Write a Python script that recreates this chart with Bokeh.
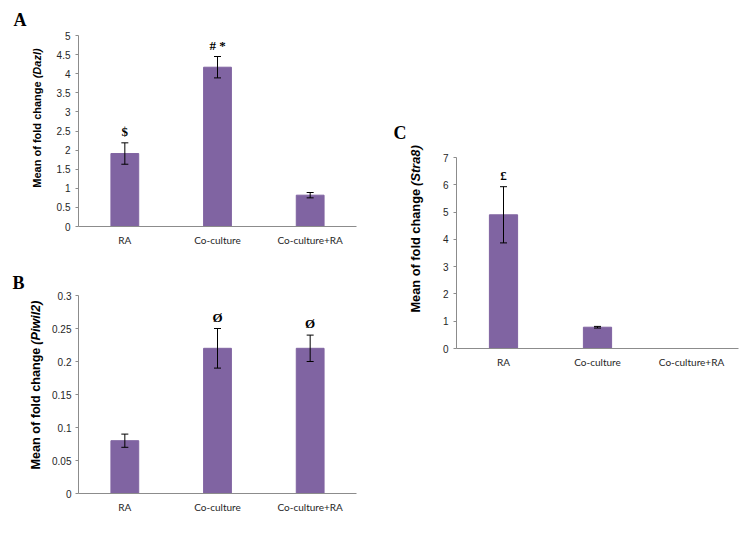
import math
from bokeh.plotting import figure
from bokeh.models import (ColumnDataSource, FactorRange, Range1d, Whisker, TeeHead,
                          LabelSet, Label, SingleIntervalTicker, FixedTicker,
                          NumeralTickFormatter, Spacer)
from bokeh.layouts import row, column
from bokeh.embed import file_html
from bokeh.resources import INLINE

# ---------------- data ----------------
categories = ["RA", "Co-culture", "Co-culture+RA"]

dazl_mean = [1.91, 4.17, 0.82]
dazl_err = [0.28, 0.28, 0.07]
dazl_marks = ["$", "# *", ""]

piwil2_mean = [0.08, 0.22, 0.22]
piwil2_err = [0.01, 0.03, 0.02]
piwil2_marks = ["", "Ø", "Ø"]

stra8_mean = [4.9, 0.78, 0.0]
stra8_err = [1.03, 0.03, 0.0]
stra8_marks = ["£", "", ""]

BAR = "#8064A2"
AXIS = "#8C8C8C"
TXT = "#262626"


def panel(letter, gene, means, errs, marks, ymax, ticks, fmt,
          w, h, bl, br, bt, bb, title_y, title_dx, title_size, letter_dx, letter_dy):
    p = figure(x_range=FactorRange(factors=categories), y_range=Range1d(0, ymax),
               width=w, height=h, output_backend="svg", toolbar_location=None,
               min_border_left=bl, min_border_right=br, min_border_top=bt,
               min_border_bottom=bb)
    p.outline_line_color = None
    p.xgrid.grid_line_color = None
    p.ygrid.grid_line_color = None
    p.background_fill_color = "white"
    p.border_fill_color = "white"

    src = ColumnDataSource(dict(cat=categories, val=means))
    p.vbar(x="cat", top="val", width=0.3, source=src, fill_color=BAR, line_color=BAR)

    ecat, eup, elo = [], [], []
    for c, m, e in zip(categories, means, errs):
        if e > 0:
            ecat.append(c); eup.append(m + e); elo.append(m - e)
    esrc = ColumnDataSource(dict(cat=ecat, up=eup, lo=elo))
    wk = Whisker(source=esrc, base="cat", upper="up", lower="lo", level="overlay",
                 line_color="black", line_width=1,
                 upper_head=TeeHead(size=7, line_color="black", line_width=1),
                 lower_head=TeeHead(size=7, line_color="black", line_width=1))
    p.add_layout(wk)

    mcat, my, mt = [], [], []
    for c, m, e, t in zip(categories, means, errs, marks):
        if t:
            mcat.append(c); my.append(m + e); mt.append(t)
    msrc = ColumnDataSource(dict(cat=mcat, y=my, t=mt))
    p.add_layout(LabelSet(x="cat", y="y", text="t", source=msrc, y_offset=4,
                          text_align="center", text_baseline="bottom",
                          text_font="Liberation Sans", text_font_style="bold",
                          text_font_size="13px", text_color="black"))

    # axes
    xa = p.xaxis[0]
    xa.axis_line_color = AXIS
    xa.major_tick_line_color = None
    xa.major_tick_out = 0
    xa.major_tick_in = 0
    xa.minor_tick_line_color = None
    xa.major_label_standoff = 7
    xa.major_label_text_font = "Lato"
    xa.major_label_text_font_size = "10px"
    xa.major_label_text_color = TXT
    xa.group_text_font_size = "0px"

    ya = p.yaxis[0]
    ya.ticker = ticks
    ya.formatter = NumeralTickFormatter(format=fmt)
    ya.axis_line_color = AXIS
    ya.major_tick_line_color = AXIS
    ya.major_tick_out = 3
    ya.major_tick_in = 0
    ya.minor_tick_line_color = None
    ya.major_label_standoff = 4
    ya.major_label_text_font = "Liberation Sans"
    ya.major_label_text_font_size = "10px"
    ya.major_label_text_color = TXT

    # rotated y title with italic gene name (side panel, so it is not clipped)
    p.add_layout(Label(x=0, y=title_y, x_offset=title_dx,
                       text="Mean of fold change",
                       angle=math.pi / 2, text_align="right", text_baseline="middle",
                       text_font="Liberation Sans", text_font_style="bold",
                       text_font_size=title_size, text_color="black"), "left")
    p.add_layout(Label(x=0, y=title_y, x_offset=title_dx, y_offset=3,
                       text="(" + gene + ")",
                       angle=math.pi / 2, text_align="left", text_baseline="middle",
                       text_font="Liberation Sans", text_font_style="bold italic",
                       text_font_size=title_size, text_color="black"), "left")
    # panel letter
    p.add_layout(Label(x=0, y=ymax, x_offset=letter_dx, y_offset=letter_dy,
                       text=letter,
                       text_align="left", text_baseline="alphabetic",
                       text_font="Liberation Serif", text_font_style="bold",
                       text_font_size="18px", text_color="black"), "above")
    return p


pA = panel("A", "Dazl", dazl_mean, dazl_err, dazl_marks, 5,
           SingleIntervalTicker(interval=0.5), "0.[0]",
           388, 270, 77, 32, 35, 44, 3.80, -42, "11px", -65, 16)
pB = panel("B", "Piwil2", piwil2_mean, piwil2_err, piwil2_marks, 0.3,
           FixedTicker(ticks=[0, 0.05, 0.1, 0.15, 0.2, 0.25, 0.3]), "0.[00]",
           388, 265, 78, 30, 25, 42, 0.221, -43, "12.6px", -66, 13)
pC = panel("C", "Stra8", stra8_mean, stra8_err, stra8_marks, 7,
           SingleIntervalTicker(interval=1), "0",
           368, 270, 68, 18, 47, 32, 5.85, -41, "12.8px", -63, 25)

layout = row(column(pA, pB), column(Spacer(width=368, height=110), pC))

open("out.html", "w").write(file_html(layout, INLINE))
